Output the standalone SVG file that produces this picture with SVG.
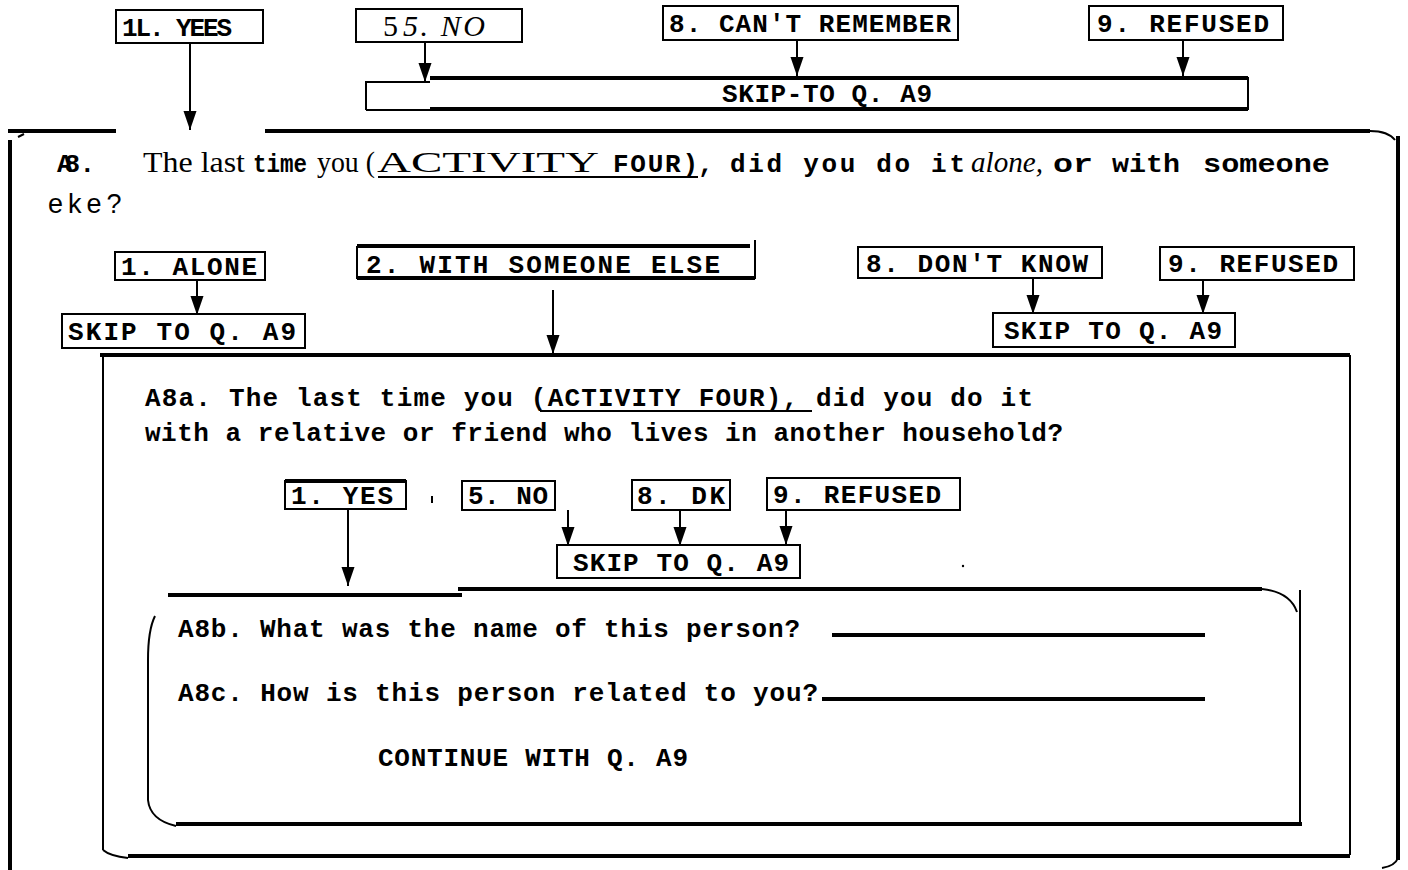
<svg xmlns="http://www.w3.org/2000/svg" width="1408" height="870" viewBox="0 0 1408 870">
<defs>
<marker id="ah" markerUnits="userSpaceOnUse" markerWidth="20" markerHeight="14" refX="19" refY="7" orient="auto" viewBox="0 0 20 14">
<path d="M0,0.5 L19,7 L0,13.5 z" fill="#000"/>
</marker>
<style>
.m{font-family:"Liberation Mono",monospace;font-weight:bold;font-size:26px;fill:#000}
.s{font-family:"Liberation Serif",serif;font-size:30px;fill:#000}
.box{fill:none;stroke:#000;stroke-width:2}
.ln{fill:none;stroke:#000;stroke-width:4}
.thin{fill:none;stroke:#000;stroke-width:2}
.arr{fill:none;stroke:#000;stroke-width:2;marker-end:url(#ah)}
</style>
</defs>
<rect width="1408" height="870" fill="#fff"/>

<!-- connectors -->
<g id="connectors">
<line class="arr" x1="190" y1="43" x2="190" y2="130"/>
<line class="arr" x1="425" y1="42" x2="425" y2="82"/>
<line class="arr" x1="797" y1="40" x2="797" y2="76"/>
<line class="arr" x1="1183" y1="40" x2="1183" y2="76"/>
<line class="arr" x1="197" y1="280" x2="197" y2="315"/>
<line class="arr" x1="553" y1="290" x2="553" y2="354"/>
<line class="arr" x1="1033" y1="278" x2="1033" y2="314"/>
<line class="arr" x1="1203" y1="280" x2="1203" y2="314"/>
<line class="arr" x1="348" y1="509" x2="348" y2="586"/>
<line class="arr" x1="568" y1="510" x2="568" y2="546"/>
<line class="arr" x1="680" y1="510" x2="680" y2="546"/>
<line class="arr" x1="786" y1="510" x2="786" y2="545"/>
</g>

<!-- top responses -->
<g id="q_yes">
<rect class="box" x="116" y="10" width="147" height="33"/>
<text class="m" x="122" y="36" font-size="23" textLength="110">1L. YEES</text>
</g>
<g id="q_no">
<rect class="box" x="356" y="9" width="166" height="33"/>
<text class="s" x="383" y="36" font-size="28">5</text>
<text class="s" x="403" y="36" font-size="28" font-style="italic" textLength="82">5. NO</text>
</g>
<g id="q_cant">
<rect class="box" x="663" y="6" width="295" height="34"/>
<text class="m" x="669" y="32" textLength="282">8. CAN'T REMEMBER</text>
</g>
<g id="q_ref">
<rect class="box" x="1089" y="6" width="194" height="34"/>
<text class="m" x="1097" y="32" textLength="172">9. REFUSED</text>
</g>
<g id="q_skip">
<path class="thin" d="M366,110 L366,82 L430,82"/>
<path class="ln" d="M430,78 H1248"/>
<path class="thin" d="M1248,77 V110"/>
<path class="thin" d="M366,110 H430"/>
<path class="ln" d="M430,109 H1248"/>
<text class="m" x="722" y="102" font-size="24" textLength="210">SKIP-TO Q. A9</text>
</g>

<!-- main frame -->
<g id="frame_a8">
<path class="ln" d="M8,131 H116 M265,131 H1370"/>
<path class="thin" d="M1370,131 Q1388,131 1395,140"/>
<path class="ln" d="M1398,136 V860"/>
<path class="thin" d="M1398,858 Q1395,866 1382,868"/>
<path class="ln" d="M10,140 V870"/>
<path class="thin" d="M18,137 L24,134"/>
</g>

<!-- A8 question -->
<g id="a8_text">
<text class="m" x="57" y="172" font-size="16" textLength="38">A8 .</text>
<text class="s" x="143" y="172" textLength="102" lengthAdjust="spacingAndGlyphs">The last</text>
<text class="m" x="253" y="172" font-size="25" textLength="54" lengthAdjust="spacingAndGlyphs">time</text>
<text class="s" x="317" y="172" textLength="58" lengthAdjust="spacingAndGlyphs">you (</text>
<text class="s" x="377" y="172" font-size="31" textLength="222" lengthAdjust="spacingAndGlyphs">ACTIVITY</text>
<text class="m" x="613" y="172" font-size="27" textLength="85">FOUR)</text>
<line class="thin" x1="378" y1="177" x2="698" y2="177"/>
<text class="m" x="698" y="172" font-size="27">,</text>
<text class="m" x="730" y="172" font-size="27" textLength="235">did you do it</text>
<text class="s" x="971" y="172" font-style="italic" textLength="72" lengthAdjust="spacingAndGlyphs">alone,</text>
<text class="m" x="1053" y="172" font-size="29" textLength="40" lengthAdjust="spacingAndGlyphs">or</text>
<text class="m" x="1112" y="172" font-size="29" textLength="68" lengthAdjust="spacingAndGlyphs">with</text>
<text class="m" x="1203" y="172" font-size="29" textLength="127" lengthAdjust="spacingAndGlyphs">someone</text>
<text x="48" y="213" font-family="Liberation Sans, sans-serif" font-size="27" letter-spacing="5">eke?</text>
</g>

<!-- A8 responses -->
<g id="a8_alone">
<rect class="box" x="115" y="252" width="150" height="28"/>
<text class="m" x="121" y="275" textLength="136">1. ALONE</text>
</g>
<g id="a8_skip1">
<rect class="box" x="62" y="314" width="243" height="34"/>
<text class="m" x="68" y="340" textLength="228">SKIP TO Q. A9</text>
</g>
<g id="a8_with">
<path class="thin" d="M357,246 V278 H755 V240"/>
<path class="ln" d="M357,246 H750"/>
<path class="ln" d="M357,278 H755"/>
<text class="m" x="366" y="273" textLength="354">2. WITH SOMEONE ELSE</text>
</g>
<g id="a8_dk">
<rect class="box" x="858" y="247" width="244" height="31"/>
<text class="m" x="866" y="272" textLength="222">8. DON'T KNOW</text>
</g>
<g id="a8_ref">
<rect class="box" x="1160" y="247" width="194" height="33"/>
<text class="m" x="1168" y="272" textLength="170">9. REFUSED</text>
</g>
<g id="a8_skip2">
<rect class="box" x="993" y="313" width="242" height="34"/>
<text class="m" x="1004" y="339" textLength="218">SKIP TO Q. A9</text>
</g>

<!-- A8a frame -->
<g id="frame_a8a">
<path class="ln" d="M100,355 H1350"/>
<path class="thin" d="M103,355 V850"/>
<path class="thin" d="M1350,355 V855"/>
<path class="ln" d="M128,856 H1350"/>
<path class="thin" d="M103,850 Q110,856 128,858"/>
</g>

<g id="a8a_text">
<text class="m" x="145" y="406" font-size="27" textLength="888">A8a. The last time you  (ACTIVITY FOUR), did you do it</text>
<line class="thin" x1="540" y1="411" x2="812" y2="411"/>
<text class="m" x="145" y="441" font-size="27" textLength="918">with a relative or friend who lives in another household?</text>
</g>

<g id="a8a_yes">
<rect class="box" x="285" y="481" width="121" height="28"/>
<path class="ln" d="M285,481 H406"/>
<text class="m" x="291" y="504" textLength="102">1. YES</text>
</g>
<g id="a8a_no">
<rect class="box" x="462" y="481" width="93" height="29"/>
<text class="m" x="468" y="504" textLength="80">5. NO</text>
</g>
<g id="a8a_dk">
<rect class="box" x="632" y="480" width="98" height="30"/>
<text class="m" x="637" y="504" textLength="88">8. DK</text>
</g>
<g id="a8a_ref">
<rect class="box" x="767" y="478" width="193" height="32"/>
<text class="m" x="773" y="503" textLength="168">9. REFUSED</text>
</g>
<g id="a8a_skip">
<rect class="box" x="557" y="545" width="243" height="33"/>
<text class="m" x="573" y="571" textLength="216">SKIP TO Q. A9</text>
</g>
<path class="thin" d="M432,496 V503"/>
<circle cx="963" cy="566" r="1.2" fill="#000"/>

<!-- A8b frame -->
<g id="frame_a8b">
<path class="ln" d="M168,595 H462"/>
<path class="ln" d="M458,589 H1262"/>
<path class="thin" d="M1262,589 Q1290,592 1297,612"/>
<path class="thin" d="M1300,590 V822"/>
<path class="ln" d="M176,824 H1302"/>
<path class="thin" d="M155,616 Q148,630 148,660 V800 Q150,820 176,826"/>
</g>
<g id="a8b_text">
<text class="m" x="178" y="637" font-size="27" textLength="622">A8b. What was the name of this person?</text>
<path class="ln" d="M832,635 H1205"/>
<text class="m" x="178" y="701" font-size="27" textLength="640">A8c. How is this person related to you?</text>
<path class="ln" d="M822,699 H1205"/>
<text class="m" x="378" y="766" font-size="27" textLength="310">CONTINUE WITH Q. A9</text>
</g>
</svg>
